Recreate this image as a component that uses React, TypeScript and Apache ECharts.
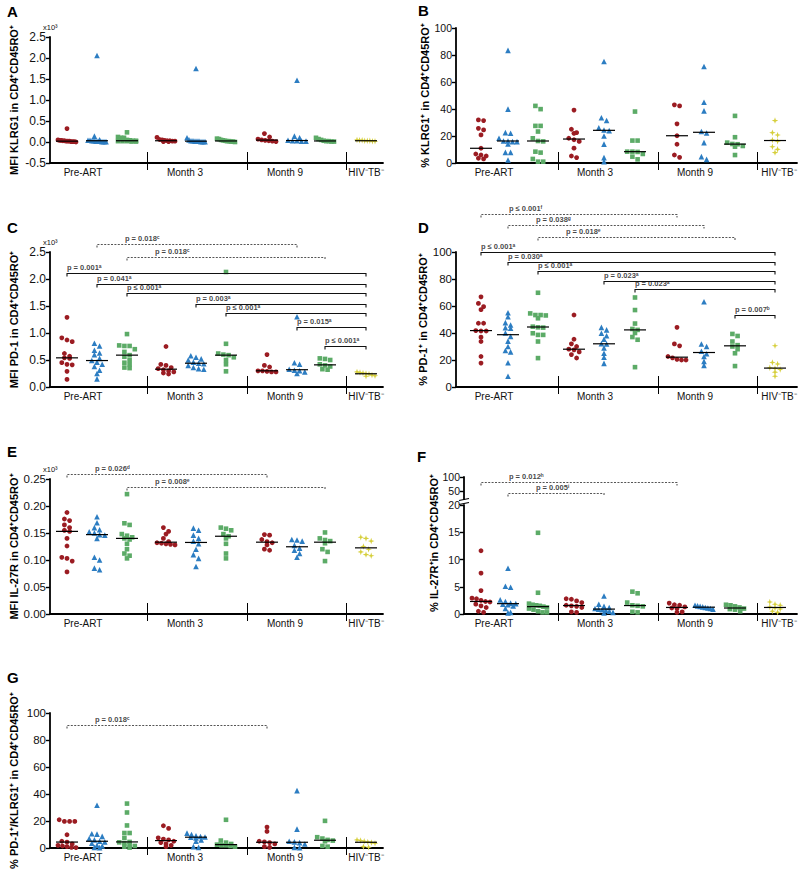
import React, { useEffect, useRef } from "react";
import * as echarts from "echarts";

const FONT = "'Liberation Sans', Arial, Helvetica, sans-serif";
const GROUP_LABELS = ["Pre-ART", "Month 3", "Month 9", "HIV⁻TB⁻"];

// Slot order in every data list:
// Pre-ART (red, blue, green), Month 3 (red, blue, green), Month 9 (red, blue, green), HIV⁻TB⁻ (yellow)
const A_DATA = [
  [0.32, 0.05, 0.04, 0.04, 0.03, 0.03, 0.02, 0.02, 0.02, 0.01, 0.01, 0.01, 0.0],
  [2.06, 0.14, 0.05, 0.04, 0.04, 0.03, 0.03, 0.02, 0.02, 0.02, 0.01, 0.01, 0.01],
  [0.23, 0.12, 0.1, 0.1, 0.05, 0.04, 0.03, 0.03, 0.02, 0.02, 0.02, 0.01, 0.01],
  [0.11, 0.06, 0.05, 0.04, 0.03, 0.03, 0.02, 0.02, 0.01, 0.01],
  [1.75, 0.1, 0.05, 0.03, 0.03, 0.02, 0.02, 0.02, 0.01, 0.01, 0.01],
  [0.08, 0.07, 0.05, 0.04, 0.03, 0.02, 0.02, 0.01, 0.01, 0.0],
  [0.2, 0.12, 0.07, 0.05, 0.04, 0.03, 0.02, 0.01],
  [1.47, 0.14, 0.1, 0.04, 0.03, 0.03, 0.02, 0.02],
  [0.1, 0.07, 0.05, 0.03, 0.02, 0.02, 0.01, 0.01],
  [0.05, 0.04, 0.04, 0.03, 0.03, 0.03, 0.02, 0.02],
];
const B_DATA = [
  [31.9, 31.4, 25.7, 24.5, 20.8, 10.9, 6.7, 5.9, 5.2, 3.5, 3.0],
  [83.4, 39.9, 22.5, 22.0, 18.3, 16.3, 16.3, 15.8, 15.8, 14.1, 7.9, 7.9, 2.2],
  [42.3, 39.9, 27.5, 27.5, 23.3, 18.3, 16.3, 16.0, 8.4, 7.7, 3.0, 1.0, 1.0],
  [39.2, 25.0, 22.5, 22.0, 18.3, 17.2, 16.0, 11.0, 5.2, 4.0],
  [75.2, 33.5, 31.5, 26.0, 24.4, 24.0, 20.0, 14.0, 4.0, 1.0],
  [38.1, 16.6, 16.6, 8.4, 8.4, 8.2, 6.7, 4.7, 2.7],
  [43.1, 42.3, 29.0, 20.2, 13.9, 5.9, 4.2],
  [71.5, 45.0, 38.6, 23.3, 22.2, 15.1, 4.7, 2.7],
  [34.9, 19.1, 15.1, 14.1, 13.9, 12.6, 12.1, 5.9],
  [31.4, 22.5, 20.8, 17.1, 16.2, 12.1, 10.1, 7.7],
];
const C_DATA = [
  [1.29, 0.91, 0.87, 0.84, 0.62, 0.57, 0.54, 0.53, 0.45, 0.42, 0.41, 0.29, 0.14],
  [0.81, 0.76, 0.68, 0.63, 0.6, 0.53, 0.49, 0.46, 0.42, 0.38, 0.31, 0.25, 0.15],
  [0.98, 0.77, 0.76, 0.76, 0.7, 0.65, 0.59, 0.56, 0.5, 0.45, 0.42, 0.36, 0.35],
  [0.75, 0.42, 0.4, 0.36, 0.34, 0.32, 0.3, 0.28, 0.26, 0.24],
  [0.58, 0.55, 0.52, 0.5, 0.46, 0.44, 0.43, 0.4, 0.36, 0.34, 0.33],
  [2.13, 0.8, 0.62, 0.6, 0.59, 0.55, 0.5, 0.42, 0.29],
  [0.6, 0.4, 0.37, 0.3, 0.3, 0.29, 0.28, 0.28],
  [1.3, 0.45, 0.42, 0.33, 0.31, 0.3, 0.28, 0.25],
  [0.53, 0.52, 0.5, 0.42, 0.4, 0.38, 0.33, 0.32],
  [0.28, 0.27, 0.26, 0.25, 0.24, 0.22, 0.21, 0.2],
];
const D_DATA = [
  [66.8, 61.9, 59.5, 57.3, 47.2, 47.2, 41.8, 41.5, 41.5, 36.9, 33.7, 22.6, 17.7],
  [55.0, 52.0, 47.7, 45.9, 44.0, 43.5, 40.0, 37.5, 34.0, 30.0, 27.0, 26.0, 18.0, 8.0],
  [69.8, 54.5, 53.3, 53.3, 53.0, 50.9, 44.7, 44.2, 44.0, 39.8, 38.6, 38.6, 33.7, 21.4],
  [53.3, 35.4, 32.0, 30.0, 28.0, 27.5, 26.0, 24.0, 21.5],
  [44.2, 42.3, 39.8, 38.0, 35.4, 32.0, 31.8, 29.0, 25.0, 22.0, 17.5],
  [66.3, 57.0, 47.0, 43.0, 42.3, 40.0, 37.0, 35.0, 14.7],
  [44.2, 31.9, 30.5, 22.6, 21.6, 20.5, 20.0, 20.0],
  [63.1, 31.9, 30.0, 26.5, 24.6, 22.6, 19.0, 16.0],
  [39.3, 37.8, 33.7, 31.0, 30.0, 28.0, 25.0, 15.5],
  [30.5, 18.2, 17.0, 14.3, 13.7, 13.0, 11.0, 8.0],
];
const E_DATA = [
  [0.188, 0.176, 0.173, 0.165, 0.16, 0.155, 0.153, 0.14, 0.126, 0.105, 0.103, 0.098, 0.078],
  [0.18, 0.169, 0.16, 0.156, 0.152, 0.15, 0.147, 0.146, 0.14, 0.105, 0.1, 0.085, 0.082],
  [0.222, 0.168, 0.165, 0.148, 0.145, 0.142, 0.14, 0.138, 0.13, 0.12, 0.112, 0.108, 0.103],
  [0.16, 0.153, 0.148, 0.14, 0.134, 0.132, 0.131, 0.13, 0.129, 0.128],
  [0.159, 0.155, 0.146, 0.14, 0.135, 0.13, 0.12, 0.11, 0.103, 0.088],
  [0.16, 0.158, 0.155, 0.148, 0.144, 0.14, 0.13, 0.112, 0.103],
  [0.147, 0.146, 0.138, 0.134, 0.132, 0.128, 0.12, 0.118],
  [0.138, 0.137, 0.135, 0.127, 0.122, 0.118, 0.112, 0.105],
  [0.151, 0.14, 0.137, 0.135, 0.131, 0.12, 0.115, 0.098],
  [0.142, 0.14, 0.135, 0.125, 0.12, 0.115, 0.11, 0.108],
];
const F_DATA = [
  [11.6, 7.5, 4.3, 2.9, 2.8, 2.5, 2.3, 2.2, 1.8, 1.5, 1.2, 0.5, 0.3],
  [8.4, 5.1, 4.9, 2.6, 2.3, 2.0, 1.9, 1.8, 1.7, 1.5, 1.0, 0.3, 0.2],
  [14.9, 3.9, 1.9, 1.7, 1.6, 1.5, 1.35, 1.2, 1.0, 0.8, 0.5, 0.3, 0.3],
  [2.8, 2.7, 2.4, 2.1, 1.6, 1.5, 1.4, 1.2, 0.4, 0.3],
  [3.3, 1.8, 1.4, 1.2, 1.0, 0.9, 0.8, 0.7, 0.5, 0.3, 0.2],
  [4.1, 3.8, 2.1, 1.6, 1.5, 1.4, 0.4, 0.3],
  [2.0, 1.7, 1.6, 1.3, 1.1, 1.0, 0.4, 0.3],
  [1.6, 1.5, 1.4, 1.3, 1.2, 1.1, 1.0, 0.9],
  [1.7, 1.6, 1.4, 1.2, 1.0, 0.9, 0.8, 0.5],
  [2.2, 1.8, 1.6, 1.3, 1.1, 0.9, 0.5, 0.3],
];
const G_DATA = [
  [20.9, 19.7, 19.7, 19.7, 9.8, 5.0, 4.4, 3.0, 2.0, 1.5, 1.0, 0.5, 0.3],
  [31.7, 10.6, 10.3, 8.6, 7.0, 6.0, 5.0, 4.5, 3.5, 2.0, 1.5, 0.5, 0.3],
  [32.9, 26.3, 16.7, 11.1, 11.1, 7.4, 4.5, 4.2, 3.5, 2.5, 1.5, 1.0, 0.3],
  [16.5, 14.5, 7.5, 6.6, 6.0, 5.0, 4.0, 3.0, 2.0, 1.0],
  [11.0, 10.0, 9.0, 8.5, 8.2, 8.0, 7.5, 6.0, 5.0, 1.0, 0.5],
  [20.9, 5.5, 4.0, 3.0, 2.5, 2.0, 2.0, 1.5, 1.0],
  [15.5, 12.3, 5.0, 4.5, 4.0, 3.0, 1.0, 0.5],
  [42.5, 14.0, 5.0, 4.5, 4.0, 3.0, 0.5, 0.3],
  [20.1, 8.0, 7.0, 6.0, 5.5, 5.0, 1.5, 1.0],
  [6.0, 5.5, 5.0, 4.5, 4.0, 3.5, 1.0, 0.5],
];

// Comparison brackets: [from slot, to slot, height (axis units), label, dashed]
type Bracket = [number, number, number, string, boolean];
const C_BRACKETS: Bracket[] = [
  [1, 7, 2.648, "p = 0.018ᶜ", true],
  [2, 8, 2.407, "p = 0.018ᶜ", true],
  [0, 9, 2.111, "p = 0.001ᵃ", false],
  [1, 9, 1.907, "p = 0.041ᵃ", false],
  [2, 9, 1.741, "p ≤ 0.001ᵃ", false],
  [4, 9, 1.537, "p = 0.003ᵃ", false],
  [5, 9, 1.37, "p ≤ 0.001ᵃ", false],
  [7, 9, 1.111, "p = 0.015ᵃ", false],
  [8, 9, 0.759, "p ≤ 0.001ᵃ", false],
];
const D_BRACKETS: Bracket[] = [
  [0, 6, 128.1, "p ≤ 0.001ᶠ", true],
  [1, 7, 120.0, "p = 0.038ᵍ", true],
  [2, 8, 111.1, "p = 0.018ᵉ", true],
  [0, 9, 100.0, "p ≤ 0.001ᵃ", false],
  [1, 9, 92.6, "p = 0.030ᵃ", false],
  [2, 9, 85.9, "p ≤ 0.001ᵃ", false],
  [4, 9, 78.5, "p = 0.023ᵃ", false],
  [5, 9, 72.6, "p = 0.023ᵃ", false],
  [8, 9, 53.3, "p = 0.007ᵇ", false],
];
const E_BRACKETS: Bracket[] = [
  [0, 6, 0.259, "p = 0.026ᵈ", true],
  [2, 8, 0.235, "p = 0.008ᵉ", true],
];
const F_BRACKETS: Bracket[] = [
  [0, 6, 81.8, "p = 0.012ʰ", true],
  [1, 4, 41.8, "p = 0.005ⁱ", true],
];
const G_BRACKETS: Bracket[] = [[0, 6, 91.1, "p = 0.018ᶜ", true]];

// Layout (pixels)
const COL_L = {
  left: 50,
  width: 333,
  slots: [17, 47, 77, 116, 146, 176, 217, 247, 275, 316],
  seps: [97, 197, 296],
  labels: [33, 135, 235, 316],
};
const COL_R = {
  left: 456,
  width: 341,
  slots: [25, 52, 82, 118, 148, 179, 221, 248, 279, 319],
  seps: [102, 202, 301],
  labels: [38, 139, 239, 323],
};

const COLORS = ["#9B1C22", "#2C7DC2", "#5CAB67", "#D6CF3B"];
const SYMBOLS = [
  "circle",
  "triangle",
  "rect",
  "path://M5,0 L6.2,3.8 L10,5 L6.2,6.2 L5,10 L3.8,6.2 L0,5 L3.8,3.8 Z",
];
const SIZES = [4.8, 5.6, 4.6, 6.5];

const PANELS: any[] = [
  { letter: "A", lx: 7, ly: 4, col: COL_L, xMin: 0, top: 37, height: 126, yMin: -0.5, yMax: 2.5, step: 0.5, dec: 1, fs: 12, title: "MFI KLRG1 in CD4⁺CD45RO⁺", gap: 31, x10: true, data: A_DATA, brackets: [] },
  { letter: "B", lx: 418, ly: 3, col: COL_R, xMin: 0, top: 28, height: 135, yMin: 0, yMax: 100, step: 20, dec: 0, fs: 10.5, title: "% KLRG1⁺ in CD4⁺CD45RO⁺", gap: 22, data: B_DATA, brackets: [] },
  { letter: "C", lx: 7, ly: 220, col: COL_L, xMin: 0, top: 252, height: 135, yMin: 0, yMax: 2.5, step: 0.5, dec: 1, fs: 12, title: "MFI PD-1 in CD4⁺CD45RO⁺", gap: 31, x10: true, data: C_DATA, brackets: C_BRACKETS },
  { letter: "D", lx: 418, ly: 220, col: COL_R, xMin: 0, top: 252, height: 135, yMin: 0, yMax: 100, step: 20, dec: 0, fs: 11.5, title: "% PD-1⁺ in CD4⁺CD45RO⁺", gap: 22, data: D_DATA, brackets: D_BRACKETS },
  { letter: "E", lx: 7, ly: 444, col: COL_L, xMin: 0, top: 479, height: 135, yMin: 0, yMax: 0.25, step: 0.05, dec: 2, fs: 11.5, title: "MFI IL-27R in CD4⁺CD45RO⁺", gap: 31, x10: true, data: E_DATA, brackets: E_BRACKETS },
  { letter: "F", lx: 417, ly: 449, col: COL_R, xMin: 8, top: 505, height: 109, yMin: 0, yMax: 20, step: 5, dec: 0, fs: 10.5, title: "", gap: 26, data: F_DATA, brackets: [],
    upper: { top: 477, height: 22, yMin: 20, yMax: 100, ticks: [50, 100], brackets: F_BRACKETS } },
  { letter: "G", lx: 7, ly: 670, col: COL_L, xMin: 0, top: 713, height: 135, yMin: 0, yMax: 100, step: 20, dec: 0, fs: 11.5, title: "% PD-1⁺/KLRG1⁺ in CD4⁺CD45RO⁺", gap: 31, data: G_DATA, brackets: G_BRACKETS },
];

function median(a: number[]) {
  const s = [...a].sort((x, y) => x - y);
  const n = s.length;
  return n % 2 ? s[(n - 1) / 2] : (s[n / 2 - 1] + s[n / 2]) / 2;
}

// beeswarm-style horizontal spreading of points with similar values (pixels)
function swarm(vals: number[], pxPerUnit: number) {
  const idx = vals.map((_, i) => i).sort((a, b) => vals[b] - vals[a]);
  const off = new Array(vals.length).fill(0);
  let i = 0;
  while (i < idx.length) {
    const start = vals[idx[i]] * pxPerUnit;
    let j = i;
    while (j + 1 < idx.length && start - vals[idx[j + 1]] * pxPerUnit < 4) j++;
    const n = j - i + 1;
    const st = n > 1 ? Math.min(5.2, 18 / (n - 1)) : 0;
    for (let k = 0; k < n; k++) off[idx[i + k]] = (k - (n - 1) / 2) * st;
    i = j + 1;
  }
  return off;
}

function bracketSeries(gi: number, slots: number[], brackets: Bracket[]) {
  const lines = {
    type: "custom",
    xAxisIndex: gi,
    yAxisIndex: gi,
    silent: true,
    z: 5,
    clip: false,
    itemStyle: { color: "#111" },
    data: brackets.map((b, i) => [slots[b[0]], slots[b[1]], b[2], i]),
    renderItem: (params: any, api: any) => {
      const b = brackets[api.value(3)];
      const p1 = api.coord([api.value(0), api.value(2)]);
      const p2 = api.coord([api.value(1), api.value(2)]);
      const y = Math.round(p1[1]) + 0.5;
      const dashed = b[4];
      return {
        type: "polyline",
        shape: { points: [[p1[0], y + 3], [p1[0], y], [p2[0], y], [p2[0], y + 3]] },
        style: { stroke: dashed ? "#555" : "#111", lineWidth: 1.1, fill: "none", lineDash: dashed ? [2, 1.4] : null },
      };
    },
  };
  const labels = {
    type: "scatter",
    xAxisIndex: gi,
    yAxisIndex: gi,
    silent: true,
    clip: false,
    z: 6,
    symbolSize: 0.1,
    itemStyle: { color: "rgba(0,0,0,0)" },
    data: brackets.map((b) => ({
      value: [slots[b[0]], b[2]],
      name: b[3],
      label: { offset: [b[4] ? 28 : 0, -1.5] },
    })),
    label: {
      show: true,
      position: [0, 0],
      align: "left",
      verticalAlign: "bottom",
      formatter: (prm: any) => prm.name,
      fontSize: 7.5,
      fontWeight: "bold",
      color: "#111",
      fontFamily: FONT,
    },
  };
  return [lines, labels];
}

function buildOption() {
  const grid: any[] = [];
  const xAxis: any[] = [];
  const yAxis: any[] = [];
  const series: any[] = [];
  const graphic: any[] = [];
  const axisLine = { show: true, onZero: false, lineStyle: { color: "#000", width: 1.8 } };

  PANELS.forEach((p) => {
    const col = p.col;
    const gi = grid.length;
    grid.push({ left: col.left + p.xMin, top: p.top, width: col.width - p.xMin, height: p.height });
    xAxis.push({
      gridIndex: gi,
      type: "value",
      min: p.xMin,
      max: col.width,
      axisLine,
      axisTick: { show: false },
      splitLine: { show: false },
      axisLabel: {
        customValues: col.labels,
        formatter: (v: number) => GROUP_LABELS[col.labels.indexOf(v)] ?? "",
        fontSize: 10,
        color: "#111",
        margin: 4,
        fontFamily: FONT,
      },
    });
    yAxis.push({
      gridIndex: gi,
      type: "value",
      min: p.yMin,
      max: p.yMax,
      interval: p.step,
      axisLine,
      axisTick: { show: true, length: 4, lineStyle: { color: "#000", width: 1.4 } },
      splitLine: { show: false },
      axisLabel: { fontSize: p.fs, color: "#111", margin: 4, fontFamily: FONT, formatter: (v: number) => v.toFixed(p.dec) },
      name: p.title,
      nameLocation: "middle",
      nameGap: p.gap,
      nameTextStyle: { fontWeight: "bold", fontSize: 11, color: "#000", fontFamily: FONT },
    });

    const ppu = p.height / (p.yMax - p.yMin);
    for (let c = 0; c < 4; c++) {
      const slotIdx = c < 3 ? [c, c + 3, c + 6] : [9];
      const pts: number[][] = [];
      slotIdx.forEach((s) => {
        const vals: number[] = p.data[s];
        const off = swarm(vals, ppu);
        vals.forEach((v, k) => pts.push([col.slots[s] + off[k], v]));
      });
      series.push({
        type: "scatter",
        xAxisIndex: gi,
        yAxisIndex: gi,
        data: pts,
        symbol: SYMBOLS[c],
        symbolSize: SIZES[c],
        itemStyle: { color: COLORS[c], opacity: 1 },
        silent: true,
        z: 2,
      });
    }
    // median lines
    series.push({
      type: "custom",
      xAxisIndex: gi,
      yAxisIndex: gi,
      silent: true,
      z: 4,
      itemStyle: { color: "#000" },
      data: p.data.map((vals: number[], s: number) => [col.slots[s], median(vals)]),
      renderItem: (params: any, api: any) => {
        const pt = api.coord([api.value(0), api.value(1)]);
        return { type: "line", shape: { x1: pt[0] - 11, y1: pt[1], x2: pt[0] + 11, y2: pt[1] }, style: { stroke: "#000", lineWidth: 1.2 } };
      },
    });
    // group separators on the x axis
    series.push({
      type: "custom",
      xAxisIndex: gi,
      yAxisIndex: gi,
      silent: true,
      z: 3,
      clip: false,
      itemStyle: { color: "#000" },
      data: col.seps.map((s: number) => [s, p.yMin]),
      renderItem: (params: any, api: any) => {
        const pt = api.coord([api.value(0), api.value(1)]);
        const cs = params.coordSys;
        const yb = cs.y + cs.height;
        const x = Math.round(pt[0]) + 0.5;
        return { type: "line", shape: { x1: x, y1: yb - 11, x2: x, y2: yb + 7 }, style: { stroke: "#000", lineWidth: 1 } };
      },
    });
    if (p.brackets.length) series.push(...bracketSeries(gi, col.slots, p.brackets));

    if (p.upper) {
      const u = p.upper;
      const gu = grid.length;
      grid.push({ left: col.left + p.xMin, top: u.top, width: col.width - p.xMin, height: u.height });
      xAxis.push({ gridIndex: gu, type: "value", min: p.xMin, max: col.width, show: false });
      yAxis.push({
        gridIndex: gu,
        type: "value",
        min: u.yMin,
        max: u.yMax,
        axisLine,
        axisTick: { show: true, length: 4, customValues: u.ticks, lineStyle: { color: "#000", width: 1.4 } },
        splitLine: { show: false },
        axisLabel: { customValues: u.ticks, fontSize: p.fs, color: "#111", margin: 4, fontFamily: FONT },
      });
      series.push(...bracketSeries(gu, col.slots, u.brackets));
    }

    graphic.push({
      type: "text",
      left: p.lx,
      top: p.ly,
      style: { text: p.letter, font: `bold 15px ${FONT}`, fill: "#000" },
    });
    if (p.x10) {
      graphic.push({
        type: "text",
        x: col.left - 7,
        y: p.top - 10,
        style: { text: "x10³", font: `7.5px ${FONT}`, fill: "#111", align: "left", verticalAlign: "middle" },
      });
    }
  });

  // Panel F: title spanning the broken axis, and the break marks
  graphic.push({
    type: "text",
    x: 434,
    y: 543,
    rotation: Math.PI / 2,
    style: { text: "% IL-27R⁺in CD4⁺CD45RO⁺", font: `bold 11px ${FONT}`, fill: "#000", align: "center", verticalAlign: "middle" },
  });
  graphic.push({ type: "line", shape: { x1: 459, y1: 500.5, x2: 469, y2: 498.5 }, style: { stroke: "#000", lineWidth: 1.2 } });
  graphic.push({ type: "line", shape: { x1: 459, y1: 504.5, x2: 469, y2: 502.5 }, style: { stroke: "#000", lineWidth: 1.2 } });

  return {
    animation: false,
    backgroundColor: "#fff",
    textStyle: { fontFamily: FONT },
    grid,
    xAxis,
    yAxis,
    series,
    graphic,
  };
}

export default function App() {
  const ref = useRef<HTMLDivElement>(null);
  useEffect(() => {
    if (!ref.current) return;
    const chart = echarts.init(ref.current, undefined, { renderer: "svg" });
    chart.setOption(buildOption() as any);
    return () => chart.dispose();
  }, []);
  return (
    <div
      ref={ref}
      style={{
        position: "absolute",
        left: 0,
        top: 0,
        width: 800,
        height: 871,
        background: "#fff",
        opacity: 0.999,
        WebkitFontSmoothing: "antialiased",
      } as any}
    />
  );
}
